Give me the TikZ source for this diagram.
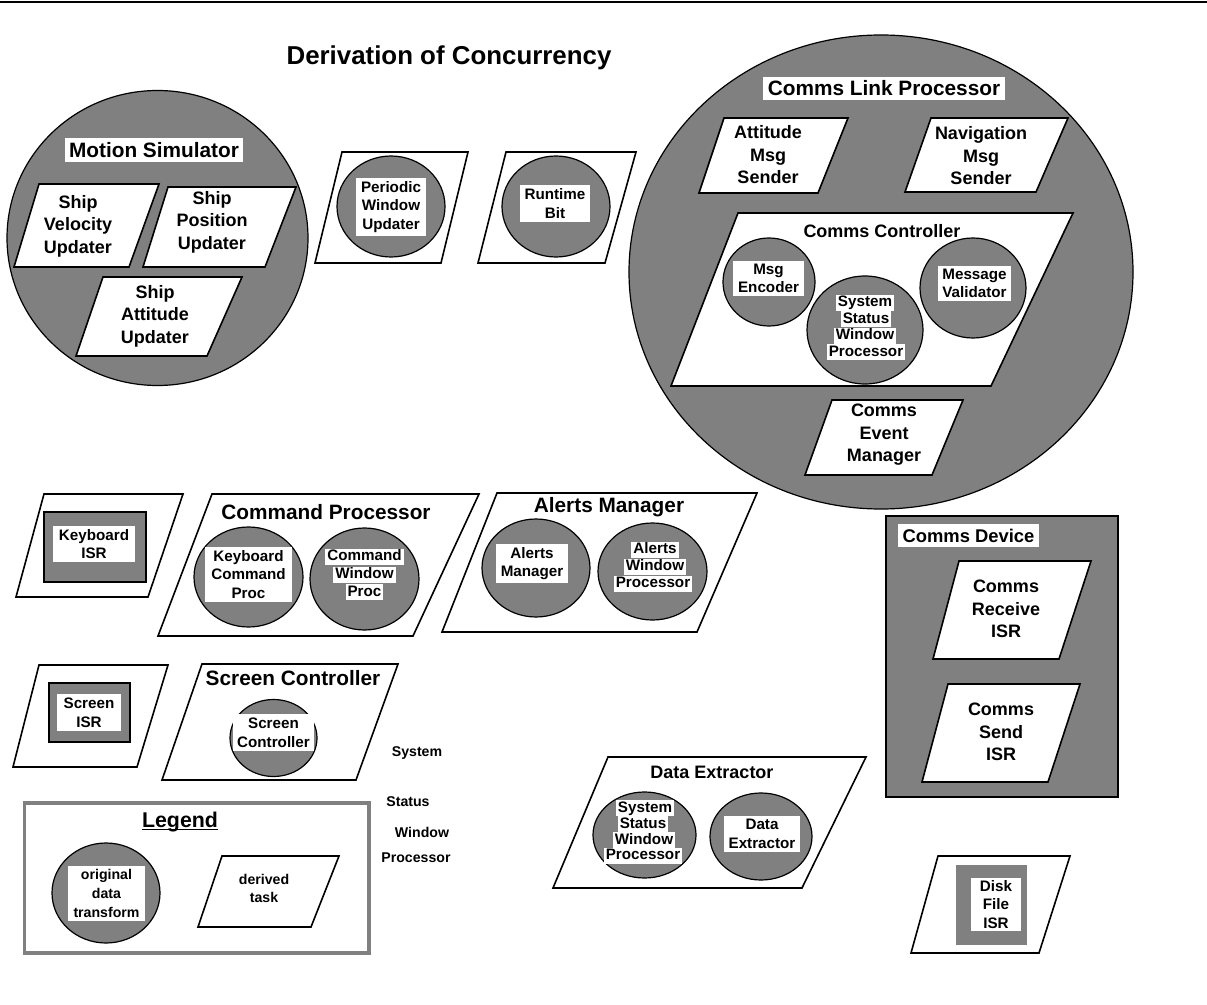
\documentclass[tikz,border=0pt]{standalone}
\usepackage{fontspec}
\setmainfont{Liberation Sans}
\definecolor{midgray}{RGB}{128,128,128}
\newcommand\szTitle{\fontsize{19.4}{23}\selectfont}
\newcommand\szGroup{\fontsize{15.6}{19}\selectfont}
\newcommand\szTask{\fontsize{13.5}{16.9}\selectfont}
\newcommand\szSub{\fontsize{13.5}{16.5}\selectfont}
\newcommand\szSmall{\fontsize{11.4}{14}\selectfont}
\newcommand\szTiny{\fontsize{10.6}{14}\selectfont}
\begin{document}
\begin{tikzpicture}[x=0.75pt,y=-0.75pt,
  xform/.style={draw=black, fill=midgray, line width=0.9pt},
  task/.style={draw=black, fill=white, line width=1.2pt, line join=miter},
  isrbox/.style={draw=black, fill=midgray, line width=1.2pt},
  tag/.style={fill=white, inner xsep=3.5pt, inner ysep=2.5pt, align=center, font=\bfseries\szSmall},
  ln/.style={fill=white, inner xsep=1.5pt, inner ysep=0.4pt, text height=8.6pt, text depth=2.6pt, font=\bfseries\szSmall},
  taskname/.style={align=center, font=\bfseries\szTask},
  subname/.style={align=center, font=\bfseries\szSub},
  grp/.style={font=\bfseries\szGroup, inner xsep=3.4pt, inner ysep=3pt},
  loose/.style={font=\bfseries\szTiny, inner sep=0pt},
]
\fill[white] (0,0) rectangle (1207,1005);
\useasboundingbox (0,0) rectangle (1207,1005);

% rule across the top and the heading
\draw[line width=1.1pt] (0,2) -- (1207,2);
\node[font=\bfseries\szTitle, anchor=base] (title) at (449,65) {Derivation of Concurrency};

% ---------- Motion Simulator ----------
\draw[xform] (157.5,238) ellipse [x radius=150.5, y radius=147.5];
\node[grp, fill=white] (motion) at (154,150) {Motion Simulator};
\draw[task] (39,184) -- (159,184) -- (129,267) -- (14,267) -- cycle;
\node[taskname] (shipvel) at (78,226) {Ship\\Velocity\\Updater};
\draw[task] (168,187) -- (296,187) -- (265,267) -- (143,267) -- cycle;
\node[taskname] (shippos) at (212,222) {Ship\\Position\\Updater};
\draw[task] (103,277) -- (242,277) -- (207,356) -- (76,356) -- cycle;
\node[taskname] (shipatt) at (155,316) {Ship\\Attitude\\Updater};

% ---------- Periodic Window Updater / Runtime Bit ----------
\draw[task] (342,152) -- (468,152) -- (441,263) -- (315,263) -- cycle;
\draw[xform] (391,206.5) ellipse [x radius=54, y radius=50.5];
\node[tag] (periodic) at (391,207) {Periodic\\Window\\Updater};
\draw[task] (506,152) -- (636,152) -- (605,263) -- (478,263) -- cycle;
\draw[xform] (556,206.5) ellipse [x radius=54, y radius=50.5];
\node[tag, inner ysep=3pt] (runtime) at (555,203.5) {Runtime\\Bit};

% ---------- Comms Link Processor ----------
\draw[xform] (881,272) ellipse [x radius=252, y radius=237];
\node[grp, fill=white] (commslink) at (884,88.5) {Comms Link Processor};
\draw[task] (724,118) -- (848,118) -- (818,193) -- (699,193) -- cycle;
\node[taskname] (attmsg) at (768,155) {Attitude\\Msg\\Sender};
\draw[task] (931,118) -- (1068,118) -- (1036,192) -- (905,192) -- cycle;
\node[taskname] (navmsg) at (981,156) {Navigation\\Msg\\Sender};
\draw[task] (738,213) -- (1073,213) -- (991,386) -- (671,386) -- cycle;
\node[subname] (commsctl) at (882,231) {Comms Controller};
\draw[xform] (769,282) ellipse [x radius=46, y radius=44];
\node[tag] (msgenc) at (768.5,278.5) {Msg\\Encoder};
\draw[xform] (865,330) ellipse [x radius=58, y radius=54];
\node[ln] (sswpA1) at (865,303) {System};
\node[ln] (sswpA2) at (866,319.5) {Status};
\node[ln] (sswpA3) at (865,336) {Window};
\node[ln] (sswpA4) at (866,352.5) {Processor};
\draw[xform] (973,288) ellipse [x radius=53, y radius=50];
\node[tag] (msgval) at (974.5,283.5) {Message\\Validator};
\draw[task] (832,400) -- (963,400) -- (932,475) -- (805,475) -- cycle;
\node[taskname] (eventmgr) at (884,435) {Comms\\Event\\Manager};

% ---------- Keyboard ISR ----------
\draw[task] (44,494) -- (183,494) -- (148,597) -- (16,597) -- cycle;
\draw[isrbox] (44,512) rectangle (146,582);
\node[tag, inner xsep=4.2pt] (kbdisr) at (94,544) {Keyboard\\ISR};

% ---------- Command Processor ----------
\draw[task] (212,494) -- (479,494) -- (413,636) -- (158,636) -- cycle;
\node[grp] (cmdproc) at (326,512) {Command Processor};
\draw[xform] (248.5,577) ellipse [x radius=54.5, y radius=50];
\node[tag, inner xsep=4.5pt] (kbdcmd) at (248.5,574.5) {Keyboard\\Command\\Proc};
\draw[xform] (364.5,579) ellipse [x radius=54.5, y radius=51];
\node[ln] (cwp1) at (364.5,557) {Command};
\node[ln] (cwp2) at (364.5,574.5) {Window};
\node[ln] (cwp3) at (364.5,592) {Proc};

% ---------- Alerts Manager ----------
\draw[task] (497,493) -- (757,493) -- (697,632) -- (442,632) -- cycle;
\node[grp] (alertsgrp) at (609,507) {Alerts Manager};
\draw[xform] (536,568) ellipse [x radius=54, y radius=49];
\node[tag] (alertsmgr) at (532,563.5) {Alerts\\Manager};
\draw[xform] (652.5,571.5) ellipse [x radius=54.5, y radius=48.5];
\node[ln] (awp1) at (655,549.5) {Alerts};
\node[ln] (awp2) at (655,566.5) {Window};
\node[ln] (awp3) at (653,583.5) {Processor};

% ---------- Comms Device ----------
\draw[draw=black, fill=midgray, line width=1.1pt] (886,516) rectangle (1118,797);
\node[grp, fill=white, font=\bfseries\fontsize{13.8}{16}\selectfont, inner ysep=3.6pt] (commsdev) at (968.5,535.5) {Comms Device};
\draw[task] (959,561) -- (1091,561) -- (1059,659) -- (933,659) -- cycle;
\node[taskname] (recvisr) at (1006,609) {Comms\\Receive\\ISR};
\draw[task] (948,684) -- (1080,684) -- (1048,782) -- (922,782) -- cycle;
\node[taskname] (sendisr) at (1001,732) {Comms\\Send\\ISR};

% ---------- Screen ISR / Screen Controller ----------
\draw[task] (39,665) -- (168,665) -- (137,767) -- (13,767) -- cycle;
\draw[isrbox] (49,683) rectangle (130,742);
\node[tag, inner xsep=5pt] (scrisr) at (89,712.5) {Screen\\ISR};
\draw[task] (202,664) -- (398,664) -- (356,780) -- (162,780) -- cycle;
\node[grp] (scrgrp) at (293,678) {Screen Controller};
\draw[xform] (273.5,738) ellipse [x radius=43.5, y radius=38.5];
\node[tag] (scrctl) at (273.5,732.5) {Screen\\Controller};

% ---------- loose wording ----------
\node[loose] (fw1) at (417,753) {System};
\node[loose] (fw2) at (408,802) {Status};
\node[loose] (fw3) at (422,832) {Window};
\node[loose] (fw4) at (416,858) {Processor};

% ---------- Legend ----------
\draw[midgray, line width=2.5pt] (24.5,803) rectangle (369,953);
\node[font=\bfseries\fontsize{16}{19}\selectfont, inner sep=0pt] (legend) at (180,822) {Legend};
\draw[line width=1.3pt] ([yshift=-1.6pt]legend.base west) -- ([yshift=-1.6pt]legend.base east);
\draw[xform] (106,893) ellipse [x radius=54, y radius=50];
\node[tag, font=\bfseries\szTiny, inner xsep=4pt, inner ysep=3pt] (origxf) at (106.5,893.5) {original\\data\\transform};
\draw[task] (222,856) -- (339,856) -- (311,927) -- (198,927) -- cycle;
\node[align=center, font=\bfseries\szTiny] (derived) at (264,888.5) {derived\\task};

% ---------- Data Extractor ----------
\draw[task] (608,757) -- (866,757) -- (802,888) -- (553,888) -- cycle;
\node[subname] (dataext) at (712,772) {Data Extractor};
\draw[xform] (644.5,835) ellipse [x radius=51.5, y radius=43];
\node[ln] (sswpB1) at (645,808) {System};
\node[ln] (sswpB2) at (643,824) {Status};
\node[ln] (sswpB3) at (644,840) {Window};
\node[ln] (sswpB4) at (643,855.5) {Processor};
\draw[xform] (761,836.5) ellipse [x radius=51, y radius=43.5];
\node[tag] (dataxf) at (762,834) {Data\\Extractor};

% ---------- Disk File ISR ----------
\draw[task] (938,856) -- (1070,856) -- (1039,953) -- (911,953) -- cycle;
\fill[midgray] (956,865) rectangle (1027,945);
\node[tag, minimum width=37.5pt, inner ysep=2pt] (diskisr) at (996,904.5) {Disk\\File\\ISR};
\end{tikzpicture}
\end{document}
